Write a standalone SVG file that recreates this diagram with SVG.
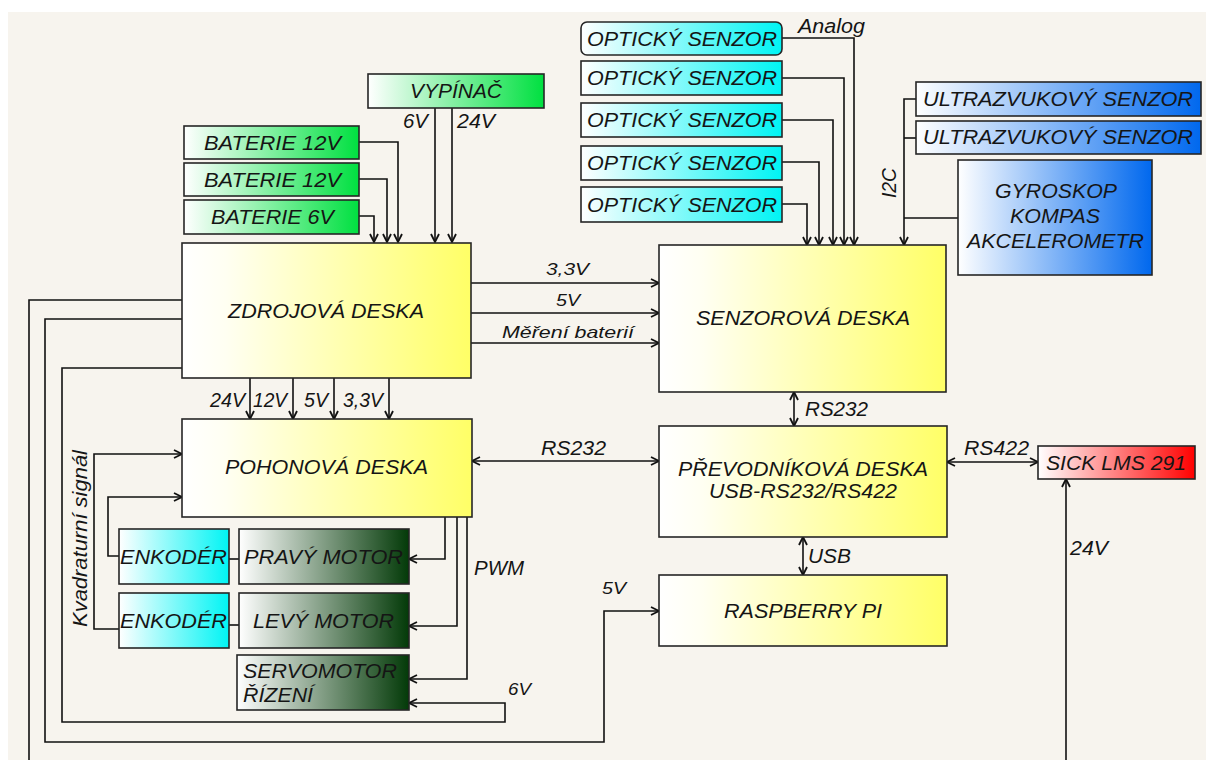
<svg xmlns="http://www.w3.org/2000/svg" width="1206" height="760" viewBox="0 0 1206 760">
<defs>
<style>
.box{stroke:#262626;stroke-width:1.6}
.t{font-family:"Liberation Sans",Arial,sans-serif;font-style:italic;font-size:20px;fill:#151515}
.b{font-size:21px}
.s{font-size:17px}
.c{fill:none;stroke:#111;stroke-width:1.6}
.a{marker-end:url(#ah)}
.d{marker-start:url(#ah);marker-end:url(#ah)}
</style>
<marker id="ah" viewBox="0 0 10 10" refX="9" refY="5" markerWidth="10" markerHeight="10" markerUnits="userSpaceOnUse" orient="auto-start-reverse">
<path d="M1,1 L9,5 L1,9" fill="none" stroke="#111" stroke-width="1.8"/>
</marker>
<linearGradient id="gY" x1="0" y1="0" x2="1" y2="0"><stop offset="0" stop-color="#ffffff"/><stop offset="0.15" stop-color="#fffff2"/><stop offset="1" stop-color="#ffff66"/></linearGradient>
<linearGradient id="gG" x1="0" y1="0" x2="1" y2="0"><stop offset="0" stop-color="#ffffff"/><stop offset="1" stop-color="#00e040"/></linearGradient>
<linearGradient id="gC" x1="0" y1="0" x2="1" y2="0"><stop offset="0" stop-color="#ffffff"/><stop offset="1" stop-color="#00f4f4"/></linearGradient>
<linearGradient id="gB" x1="0" y1="0" x2="1" y2="0"><stop offset="0" stop-color="#ffffff"/><stop offset="1" stop-color="#0068ee"/></linearGradient>
<linearGradient id="gD" x1="0" y1="0" x2="1" y2="0"><stop offset="0" stop-color="#ffffff"/><stop offset="1" stop-color="#033a08"/></linearGradient>
<linearGradient id="gR" x1="0" y1="0" x2="1" y2="0"><stop offset="0" stop-color="#ffffff"/><stop offset="1" stop-color="#ff0000"/></linearGradient>
</defs>
<rect x="0" y="0" width="1206" height="760" fill="#ffffff"/>
<rect x="8" y="12" width="1198" height="748" fill="#f7f4ee"/>

<g id="connectors">
<path class="c a" d="M359,142 H398 V242"/>
<path class="c a" d="M359,179 H387 V242"/>
<path class="c a" d="M359,216 H374 V242"/>
<path class="c a" d="M435,108 V242"/>
<path class="c a" d="M452,108 V242"/>
<path class="c a" d="M471,283 H659"/>
<path class="c a" d="M471,313 H659"/>
<path class="c a" d="M471,343 H659"/>
<path class="c a" d="M250,378 V419"/>
<path class="c a" d="M293,378 V419"/>
<path class="c a" d="M334,378 V419"/>
<path class="c a" d="M389,378 V419"/>
<path class="c a" d="M782,38 H854 V245"/>
<path class="c a" d="M782,78 H844 V245"/>
<path class="c a" d="M782,120 H833 V245"/>
<path class="c a" d="M782,162 H819 V245"/>
<path class="c a" d="M782,204 H807 V245"/>
<path class="c a" d="M916,99 H904 V245"/>
<path class="c" d="M916,138 H904"/>
<path class="c" d="M958,218 H904"/>
<path class="c d" d="M794,392 V426"/>
<path class="c d" d="M472,461 H659"/>
<path class="c d" d="M947,462 H1038"/>
<path class="c d" d="M803,537 V575"/>
<path class="c a" d="M1066,760 V479"/>
<path class="c" d="M182,300 H29 V760"/>
<path class="c a" d="M182,319 H45 V742 H604 V611 H659"/>
<path class="c a" d="M182,368 H62 V722 H505 V703 H409"/>
<path class="c a" d="M119,629 H94 V454 H182"/>
<path class="c a" d="M119,556 H108 V497 H182"/>
<path class="c" d="M229,559 H239"/>
<path class="c" d="M229,625 H239"/>
<path class="c a" d="M445,517 V559 H409"/>
<path class="c a" d="M457,517 V626 H409"/>
<path class="c a" d="M467,517 V679 H409"/>
</g>

<g id="labels">
<text class="t" x="403" y="128" textLength="25" lengthAdjust="spacingAndGlyphs">6V</text>
<text class="t" x="457" y="128" textLength="38" lengthAdjust="spacingAndGlyphs">24V</text>
<text class="t s" x="546" y="275" textLength="43" lengthAdjust="spacingAndGlyphs">3,3V</text>
<text class="t s" x="556" y="306" textLength="24" lengthAdjust="spacingAndGlyphs">5V</text>
<text class="t s" x="502" y="338" textLength="132" lengthAdjust="spacingAndGlyphs">Měření baterií</text>
<text class="t" x="210" y="407" textLength="35" lengthAdjust="spacingAndGlyphs">24V</text>
<text class="t" x="253" y="407" textLength="34" lengthAdjust="spacingAndGlyphs">12V</text>
<text class="t" x="304" y="407" textLength="24" lengthAdjust="spacingAndGlyphs">5V</text>
<text class="t" x="343" y="407" textLength="40" lengthAdjust="spacingAndGlyphs">3,3V</text>
<text class="t" x="798" y="33" textLength="67" lengthAdjust="spacingAndGlyphs">Analog</text>
<text class="t" transform="translate(896,198) rotate(-90)" x="0" y="0" textLength="30" lengthAdjust="spacingAndGlyphs">I2C</text>
<text class="t" x="805" y="416" textLength="63" lengthAdjust="spacingAndGlyphs">RS232</text>
<text class="t" x="541" y="455" textLength="65" lengthAdjust="spacingAndGlyphs">RS232</text>
<text class="t" x="964" y="455" textLength="65" lengthAdjust="spacingAndGlyphs">RS422</text>
<text class="t" x="808" y="563" textLength="43" lengthAdjust="spacingAndGlyphs">USB</text>
<text class="t" x="474" y="575" textLength="50" lengthAdjust="spacingAndGlyphs">PWM</text>
<text class="t s" x="602" y="594" textLength="24" lengthAdjust="spacingAndGlyphs">5V</text>
<text class="t s" x="508" y="695" textLength="23" lengthAdjust="spacingAndGlyphs">6V</text>
<text class="t" x="1070" y="555" textLength="38" lengthAdjust="spacingAndGlyphs">24V</text>
<text class="t" transform="translate(87,627) rotate(-90)" x="0" y="0" textLength="177" lengthAdjust="spacingAndGlyphs">Kvadraturní signál</text>
</g>

<g id="vypinac"><rect class="box" x="368" y="74" width="176" height="34" fill="url(#gG)"/><text class="t b" x="410" y="98" textLength="92" lengthAdjust="spacingAndGlyphs">VYPÍNAČ</text></g>
<g id="baterie1"><rect class="box" x="184" y="126" width="175" height="33" fill="url(#gG)"/><text class="t b" x="204" y="150" textLength="137" lengthAdjust="spacingAndGlyphs">BATERIE 12V</text></g>
<g id="baterie2"><rect class="box" x="184" y="163" width="175" height="33" fill="url(#gG)"/><text class="t b" x="204" y="187" textLength="137" lengthAdjust="spacingAndGlyphs">BATERIE 12V</text></g>
<g id="baterie3"><rect class="box" x="184" y="200" width="175" height="34" fill="url(#gG)"/><text class="t b" x="211" y="224" textLength="123" lengthAdjust="spacingAndGlyphs">BATERIE 6V</text></g>

<g id="opt1"><rect class="box" x="581" y="22" width="201" height="33" rx="6" fill="url(#gC)"/><text class="t b" x="587" y="46" textLength="190" lengthAdjust="spacingAndGlyphs">OPTICKÝ SENZOR</text></g>
<g id="opt2"><rect class="box" x="581" y="61" width="201" height="34" fill="url(#gC)"/><text class="t b" x="587" y="85" textLength="190" lengthAdjust="spacingAndGlyphs">OPTICKÝ SENZOR</text></g>
<g id="opt3"><rect class="box" x="581" y="103" width="201" height="34" fill="url(#gC)"/><text class="t b" x="587" y="127" textLength="190" lengthAdjust="spacingAndGlyphs">OPTICKÝ SENZOR</text></g>
<g id="opt4"><rect class="box" x="581" y="146" width="201" height="34" fill="url(#gC)"/><text class="t b" x="587" y="170" textLength="190" lengthAdjust="spacingAndGlyphs">OPTICKÝ SENZOR</text></g>
<g id="opt5"><rect class="box" x="581" y="187" width="201" height="35" fill="url(#gC)"/><text class="t b" x="587" y="212" textLength="190" lengthAdjust="spacingAndGlyphs">OPTICKÝ SENZOR</text></g>

<g id="ultra1"><rect class="box" x="916" y="82" width="285" height="34" fill="url(#gB)"/><text class="t b" x="923" y="106" textLength="270" lengthAdjust="spacingAndGlyphs">ULTRAZVUKOVÝ SENZOR</text></g>
<g id="ultra2"><rect class="box" x="916" y="121" width="285" height="33" fill="url(#gB)"/><text class="t b" x="923" y="144" textLength="270" lengthAdjust="spacingAndGlyphs">ULTRAZVUKOVÝ SENZOR</text></g>
<g id="gyro"><rect class="box" x="958" y="160" width="194" height="115" fill="url(#gB)"/>
<text class="t b" x="995" y="198" textLength="122" lengthAdjust="spacingAndGlyphs">GYROSKOP</text>
<text class="t b" x="1010" y="223" textLength="90" lengthAdjust="spacingAndGlyphs">KOMPAS</text>
<text class="t b" x="967" y="248" textLength="177" lengthAdjust="spacingAndGlyphs">AKCELEROMETR</text></g>

<g id="zdroj"><rect class="box" x="182" y="243" width="289" height="135" fill="url(#gY)"/><text class="t b" x="228" y="318" textLength="196" lengthAdjust="spacingAndGlyphs">ZDROJOVÁ DESKA</text></g>
<g id="senzor"><rect class="box" x="659" y="245" width="287" height="147" fill="url(#gY)"/><text class="t b" x="696" y="325" textLength="214" lengthAdjust="spacingAndGlyphs">SENZOROVÁ DESKA</text></g>
<g id="pohon"><rect class="box" x="182" y="419" width="290" height="98" fill="url(#gY)"/><text class="t b" x="225" y="474" textLength="203" lengthAdjust="spacingAndGlyphs">POHONOVÁ DESKA</text></g>
<g id="prevod"><rect class="box" x="659" y="426" width="288" height="111" fill="url(#gY)"/>
<text class="t b" x="678" y="476" textLength="250" lengthAdjust="spacingAndGlyphs">PŘEVODNÍKOVÁ DESKA</text>
<text class="t b" x="709" y="498" textLength="188" lengthAdjust="spacingAndGlyphs">USB-RS232/RS422</text></g>
<g id="raspberry"><rect class="box" x="659" y="575" width="288" height="71" fill="url(#gY)"/><text class="t b" x="724" y="618" textLength="158" lengthAdjust="spacingAndGlyphs">RASPBERRY PI</text></g>
<g id="sick"><rect class="box" x="1038" y="446" width="157" height="33" fill="url(#gR)"/><text class="t b" x="1046" y="470" textLength="140" lengthAdjust="spacingAndGlyphs">SICK LMS 291</text></g>

<g id="enkoder1"><rect class="box" x="119" y="529" width="110" height="55" fill="url(#gC)"/><text class="t b" x="120" y="564" textLength="107" lengthAdjust="spacingAndGlyphs">ENKODÉR</text></g>
<g id="enkoder2"><rect class="box" x="119" y="593" width="110" height="55" fill="url(#gC)"/><text class="t b" x="120" y="628" textLength="107" lengthAdjust="spacingAndGlyphs">ENKODÉR</text></g>
<g id="pravy"><rect class="box" x="239" y="529" width="170" height="55" fill="url(#gD)"/><text class="t b" x="244" y="564" textLength="159" lengthAdjust="spacingAndGlyphs">PRAVÝ MOTOR</text></g>
<g id="levy"><rect class="box" x="239" y="593" width="170" height="55" fill="url(#gD)"/><text class="t b" x="253" y="628" textLength="141" lengthAdjust="spacingAndGlyphs">LEVÝ MOTOR</text></g>
<g id="servo"><rect class="box" x="237" y="655" width="172" height="55" fill="url(#gD)"/>
<text class="t b" x="243" y="678" textLength="154" lengthAdjust="spacingAndGlyphs">SERVOMOTOR</text>
<text class="t b" x="243" y="702" textLength="70" lengthAdjust="spacingAndGlyphs">ŘÍZENÍ</text></g>
</svg>
